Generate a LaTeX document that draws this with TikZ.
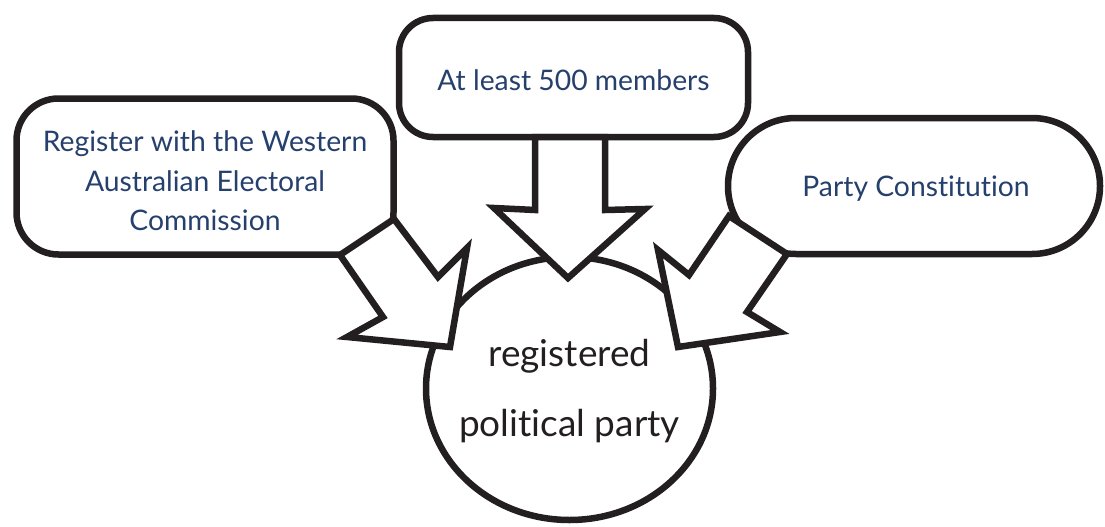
\documentclass[tikz,border=0pt]{standalone}
\usepackage{fontspec}
\setmainfont{Lato}[Ligatures={NoCommon}]
\usetikzlibrary{shapes.geometric}
\definecolor{ink}{RGB}{35,31,32}
\definecolor{txtblue}{RGB}{38,64,110}
\begin{document}
\begin{tikzpicture}[x=1pt,y=-1pt,line width=6.5pt,
  boxnode/.style={draw=ink,fill=white,rounded corners=#1,inner sep=0pt},
  boxnode/.default=40pt,
  boxtext/.style={inner sep=0pt,align=center,text=txtblue,font=\fontsize{28.3}{39.5}\selectfont},
  blockarrow/.style={draw=ink,fill=white,line join=miter,miter limit=10}]
\useasboundingbox (0,0) rectangle (1105,527);
% goal
\node[ellipse,draw=ink,fill=white,minimum width=287pt,minimum height=263pt,inner sep=0pt]
  (party) at (569.5,388.5) {};
\node[inner sep=0pt,align=center,text=ink,font=\fontsize{37}{70}\selectfont]
  (partytext) at ([yshift=-3pt]party.center) {registered\\political party};
% requirement boxes
\node[boxnode=42pt,minimum width=377pt,minimum height=156pt] (waec) at (205,176.5) {};
\node[boxtext] (waectext) at ([yshift=-4.5pt]waec.center)
  {Register with the Western\\Australian Electoral\\Commission};
\node[boxnode=34pt,minimum width=349pt,minimum height=119pt] (members) at (573.5,77.5) {};
\node[boxtext] (memberstext) at ([yshift=-3pt]members.center) {At least 500 members};
\node[boxnode=67.9pt,minimum width=372pt,minimum height=136pt] (constitution) at (914,186) {};
\node[boxtext] (constitutiontext) at ([xshift=2pt,yshift=-3pt]constitution.center) {Party Constitution};
% block arrows
\draw[blockarrow] (394,219) -- (438,277) -- (467,248) -- (450,347) -- (347,337)
  -- (383,317) -- (340,255) -- cycle;
\draw[blockarrow] (535,137) -- (535,210) -- (494,208) -- (568,278) -- (645,209)
  -- (605,210) -- (605,137) -- cycle;
\draw[blockarrow] (729,216) -- (689,275) -- (658,250) -- (678,347) -- (780,332)
  -- (747,312) -- (787,254) -- cycle;
\end{tikzpicture}
\end{document}
